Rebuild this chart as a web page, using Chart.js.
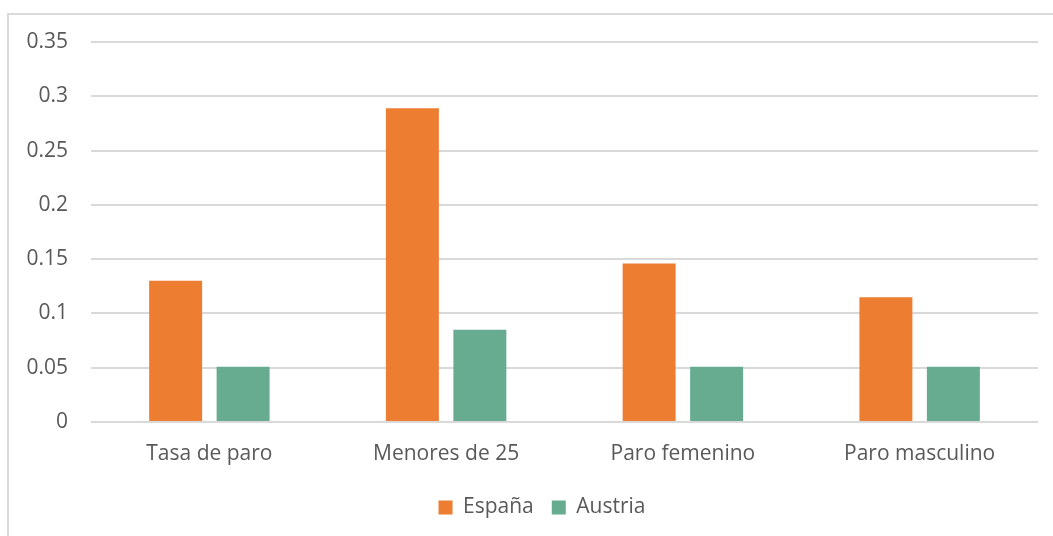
<!DOCTYPE html>
<html>
<head>
<meta charset="utf-8">
<script src="https://cdn.jsdelivr.net/npm/chart.js@4/dist/chart.umd.min.js"></script>
<style>
  body { margin: 0; background: #fff; }
  #marco { position: absolute; left: 7px; top: 13px; width: 1200px; height: 700px;
           border-left: 2px solid #d9d9d9; border-top: 2px solid #d9d9d9; }
  #grafico { position: absolute; left: 0; top: 0; }
</style>
</head>
<body>
<div id="marco"></div>
<canvas id="grafico" width="1053" height="536"></canvas>
<script>
// datos
const categorias = ['Tasa de paro', 'Menores de 25', 'Paro femenino', 'Paro masculino'];
const espana = [0.13, 0.289, 0.146, 0.115];
const austria = [0.051, 0.085, 0.051, 0.051];
const yTicks = ['0', '0.05', '0.1', '0.15', '0.2', '0.25', '0.3', '0.35'];

const fuente = { family: 'Open Sans', size: 21 };
const gris = '#595959';

// la leyenda del original esta algo a la derecha del centro
const moverLeyenda = {
  id: 'moverLeyenda',
  afterLayout(chart) {
    chart.legend.left += 23;
    chart.legend.right += 23;
  }
};

new Chart(document.querySelector('#grafico'), {
  type: 'bar',
  data: {
    labels: categorias,
    datasets: [
      {
        label: 'España',
        data: espana,
        backgroundColor: '#ED7D31',
        categoryPercentage: 0.57,
        barPercentage: 0.785
      },
      {
        label: 'Austria',
        data: austria,
        backgroundColor: '#67AB91',
        categoryPercentage: 0.57,
        barPercentage: 0.785
      }
    ]
  },
  options: {
    responsive: false,
    animation: false,
    layout: { padding: { left: 0, top: 42, right: 15, bottom: 8 } },
    plugins: {
      tooltip: { enabled: false },
      legend: {
        position: 'bottom',
        labels: { boxWidth: 14, boxHeight: 14, color: gris, font: fuente, padding: 18 }
      }
    },
    scales: {
      x: {
        grid: { display: false },
        border: { display: false },
        ticks: { color: gris, font: fuente, padding: 11 },
        afterFit: s => { s.height = 57; }
      },
      y: {
        min: 0,
        max: 0.35,
        grid: { color: '#d9d9d9', lineWidth: 2, drawTicks: false },
        border: { display: false },
        ticks: {
          stepSize: 0.05,
          color: gris,
          font: fuente,
          padding: 23,
          callback: (v, i) => yTicks[i]
        },
        afterFit: s => { s.width = 91; }
      }
    }
  },
  plugins: [moverLeyenda]
});
</script>
</body>
</html>
